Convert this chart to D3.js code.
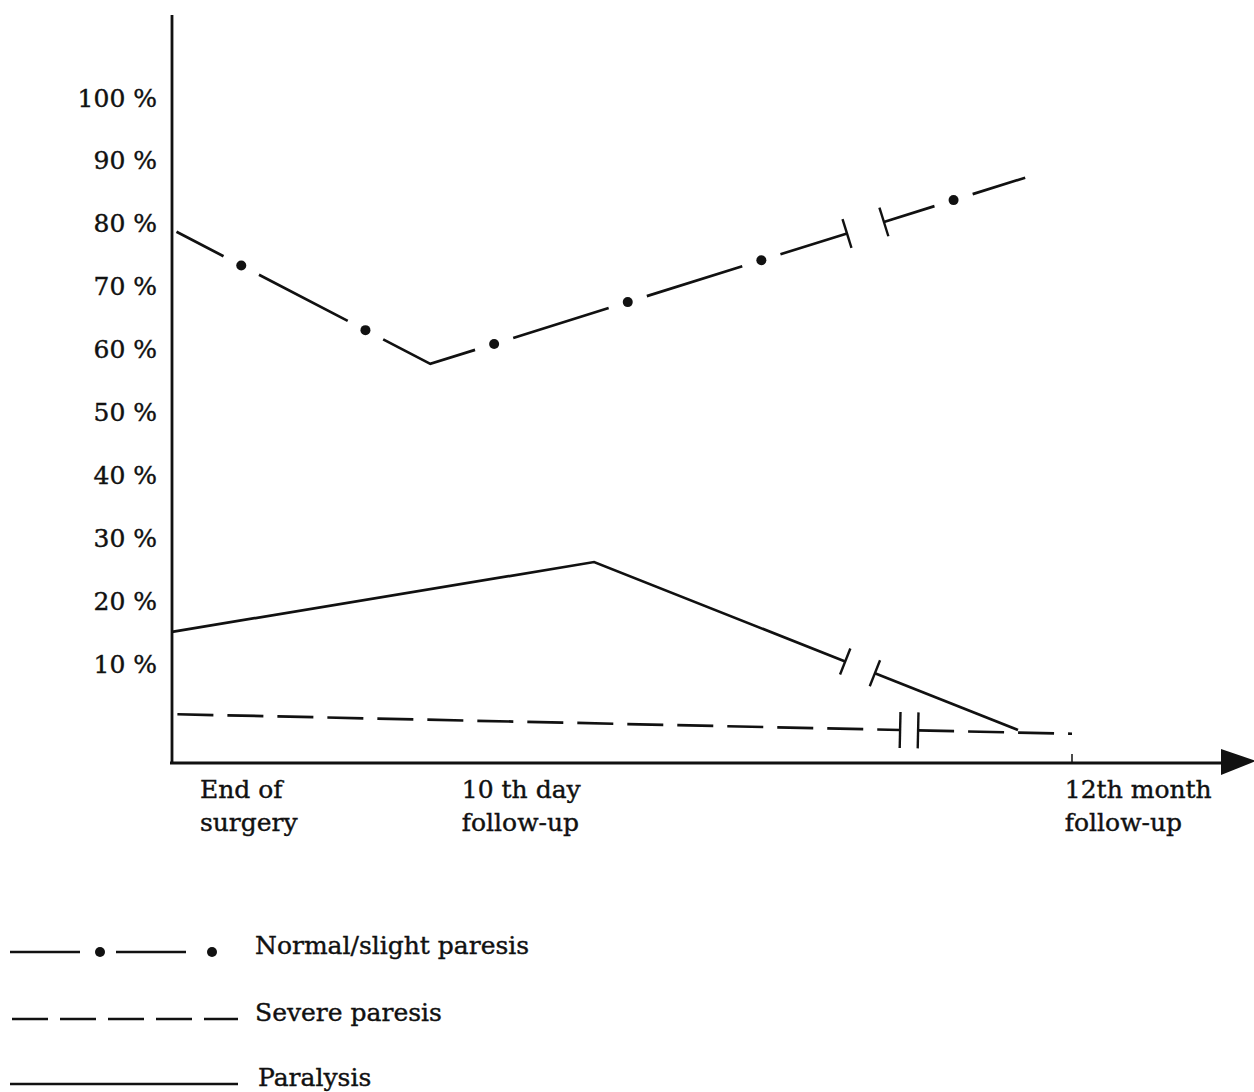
<!DOCTYPE html>
<html>
<head>
<meta charset="utf-8">
<script src="https://cdn.jsdelivr.net/npm/d3@7"></script>
<style>
  body { margin: 0; background: #fff; }
  text { font-family: 'DejaVu Serif', serif; fill: #111; stroke: #111; stroke-width: 0.4px; }
</style>
</head>
<body>
<div class="canvas"></div>
<script>
// schematic time axis: 0 = end of surgery, 100 = 12th month follow-up
const yTicks = [10, 20, 30, 40, 50, 60, 70, 80, 90, 100]
const catLabels = [['End of', 'surgery'], ['10 th day', 'follow-up'], ['12th month', 'follow-up']]
const catPos = [3.1, 32.2, 99.2]

const normalX = [0.5, 28.7, 94.8]
const normalY = [80.0, 59.0, 88.6]
const severeX = [0.6, 100]
const severeY = [3.3, 0.2]
const paralysisX = [0, 46.9, 94.0]
const paralysisY = [16.4, 27.5, 0.8]

// where each line is interrupted (long time gap)
const normalBreak = [75.0, 79.1]
const severeBreak = [80.9, 82.9]
const paralysisBreak = [74.8, 78.1]

const legendNames = ['Normal/slight paresis', 'Severe paresis', 'Paralysis']

const W = 1254, H = 1092
const svg = d3.select('.canvas')
  .append('svg')
  .attr('width', W)
  .attr('height', H)

const x = d3.scaleLinear().domain([0, 100]).range([172, 1072])
const y = d3.scaleLinear().domain([0, 100]).range([735, 106])
const axisY = 763

// axes
svg.append('line')
  .attr('x1', 172).attr('x2', 172)
  .attr('y1', 15).attr('y2', axisY)
  .attr('stroke', '#111').attr('stroke-width', 2.8)
svg.append('line')
  .attr('x1', 170).attr('x2', 1224)
  .attr('y1', axisY).attr('y2', axisY)
  .attr('stroke', '#111').attr('stroke-width', 2.8)
svg.append('path')
  .attr('d', `M1221,${axisY - 14}L1256,${axisY - 2}L1221,${axisY + 12}Z`)
  .attr('fill', '#111')
svg.append('line')
  .attr('x1', x(100)).attr('x2', x(100))
  .attr('y1', axisY).attr('y2', axisY - 9)
  .attr('stroke', '#111').attr('stroke-width', 1.5)

const yAxis = d3.axisLeft(y)
  .tickValues(yTicks)
  .tickSize(0)
  .tickPadding(15)
  .tickFormat(d => d + ' %')
const yAxisGroup = svg.append('g')
  .attr('transform', 'translate(172,0)')
  .call(yAxis)
yAxisGroup.select('.domain').remove()
yAxisGroup.selectAll('text')
  .attr('dy', 0)
  .style('font-family', "'DejaVu Serif', serif")
  .style('font-size', '25px')
  .attr('fill', '#111')

// category labels under the x axis
catLabels.forEach((lines, i) => {
  const t = svg.append('text')
    .attr('x', x(catPos[i]))
    .attr('y', 798)
    .style('font-size', '25px')
  lines.forEach((l, j) => {
    t.append('tspan').attr('x', x(catPos[i])).attr('dy', j ? 33 : 0).text(l)
  })
})

// split a series at its break, return pieces in pixel space
const splitSeries = (xs, ys, br) => {
  const pts = xs.map((d, i) => [d, ys[i]])
  const interp = (b) => {
    for (let i = 0; i < pts.length - 1; i++) {
      if (pts[i][0] <= b && pts[i + 1][0] >= b) {
        const t = (b - pts[i][0]) / (pts[i + 1][0] - pts[i][0])
        return [b, pts[i][1] + t * (pts[i + 1][1] - pts[i][1])]
      }
    }
  }
  const left = pts.filter(p => p[0] < br[0]).concat([interp(br[0])])
  const right = [interp(br[1])].concat(pts.filter(p => p[0] > br[1]))
  return [left, right].map(piece => piece.map(p => [x(p[0]), y(p[1])]))
}

const line = d3.line()

// short stroke across the line at a break point
const breakTick = (p, q, len) => {
  const dx = q[0] - p[0], dy = q[1] - p[1]
  const n = Math.hypot(dx, dy)
  const ux = -dy / n, uy = dx / n
  svg.append('line')
    .attr('x1', p[0] - ux * len / 2).attr('y1', p[1] - uy * len / 2)
    .attr('x2', p[0] + ux * len / 2).attr('y2', p[1] + uy * len / 2)
    .attr('stroke', '#111').attr('stroke-width', 2.4)
}

// dash: [dash, gap, offset]; dots sit in the middle of each gap
const drawSeries = (xs, ys, br, dash, dots, tickLen) => {
  const pieces = splitSeries(xs, ys, br)
  pieces.forEach((piece, k) => {
    const path = svg.append('path')
      .attr('d', line(piece))
      .attr('fill', 'none')
      .attr('stroke', '#111')
      .attr('stroke-width', 2.7)
    if (dash) {
      path.attr('stroke-dasharray', dash[0] + ',' + dash[1])
        .attr('stroke-dashoffset', dash[2])
    }
    if (dots) {
      const node = path.node()
      const total = node.getTotalLength()
      const [a, g, off] = dash
      for (let s = a - off + g / 2; s < total; s += a + g) {
        const pt = node.getPointAtLength(s)
        svg.append('circle').attr('cx', pt.x).attr('cy', pt.y).attr('r', 5).attr('fill', '#111')
      }
    }
    if (k === 0) breakTick(piece[piece.length - 1], piece[piece.length - 2], tickLen)
    else breakTick(piece[0], piece[1], tickLen)
  })
}

drawSeries(normalX, normalY, normalBreak, [100, 40, 47], true, 30)
drawSeries(severeX, severeY, severeBreak, [36, 14, 0], false, 36)
drawSeries(paralysisX, paralysisY, paralysisBreak, null, false, 28)

// legend
const legend = svg.append('g')
const rows = [952, 1019, 1084]
// Normal/slight paresis sample: dash dot dash dot
legend.append('line').attr('x1', 10).attr('x2', 80).attr('y1', rows[0]).attr('y2', rows[0])
  .attr('stroke', '#111').attr('stroke-width', 2.7)
legend.append('circle').attr('cx', 100).attr('cy', rows[0]).attr('r', 5).attr('fill', '#111')
legend.append('line').attr('x1', 116).attr('x2', 186).attr('y1', rows[0]).attr('y2', rows[0])
  .attr('stroke', '#111').attr('stroke-width', 2.7)
legend.append('circle').attr('cx', 212).attr('cy', rows[0]).attr('r', 5).attr('fill', '#111')
legend.append('line').attr('x1', 12).attr('x2', 238).attr('y1', rows[1]).attr('y2', rows[1])
  .attr('stroke', '#111').attr('stroke-width', 2.7).attr('stroke-dasharray', '36,12')
legend.append('line').attr('x1', 10).attr('x2', 238).attr('y1', rows[2]).attr('y2', rows[2])
  .attr('stroke', '#111').attr('stroke-width', 2.7)

legendNames.forEach((name, i) => {
  legend.append('text')
    .attr('x', i === 2 ? 258 : 255)
    .attr('y', rows[i] + 2)
    .style('font-size', '25px')
    .text(name)
})
</script>
</body>
</html>
